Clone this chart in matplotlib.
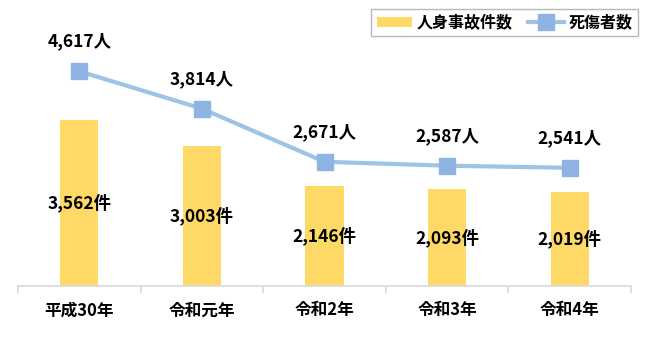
import numpy as np
import matplotlib.pyplot as plt

plt.rcParams['font.family'] = ['Noto Sans CJK JP', 'DejaVu Sans']

# データ
years = ['平成30年', '令和元年', '令和2年', '令和3年', '令和4年']
accidents = [3562, 3003, 2146, 2093, 2019]   # 人身事故件数
casualties = [4617, 3814, 2671, 2587, 2541]  # 死傷者数

bar_color = '#FFD966'
line_color = '#9DC3E6'
marker_color = '#8FB4E3'

fig = plt.figure(figsize=(6.5, 3.4), dpi=100)
ax = fig.add_axes([18/650, 54/340, (631-18)/650, (286-10)/340])

x = np.arange(len(years))
bars = ax.bar(x, accidents, width=0.31, color=bar_color, label='人身事故件数', zorder=2)
line, = ax.plot(x, casualties, color=line_color, lw=3, marker='s', ms=12,
                mfc=marker_color, mec=marker_color, label='死傷者数', zorder=3)

for i in range(len(years)):
    ax.text(x[i], accidents[i] / 2, f'{accidents[i]:,}件', ha='center', va='center',
            fontsize=12.5, fontweight='bold', zorder=4)
    ax.annotate(f'{casualties[i]:,}人', (x[i], casualties[i]), xytext=(0, 15),
                textcoords='offset points', ha='center', va='bottom',
                fontsize=12.5, fontweight='bold')

ax.set_xlim(-0.5, 4.5)
ax.set_ylim(0, 5935)
ax.set_yticks([])
ax.set_xticks(x)
ax.set_xticklabels(years, fontsize=12, fontweight='bold')
ax.set_xticks(np.arange(-0.5, 5, 1), minor=True)
ax.tick_params(axis='x', which='major', length=0, pad=11)
ax.tick_params(axis='x', which='minor', length=5, color='#D9D9D9', width=1.2)
for s in ['top', 'right', 'left']:
    ax.spines[s].set_visible(False)
ax.spines['bottom'].set_color('#D9D9D9')
ax.spines['bottom'].set_linewidth(1.2)

leg = ax.legend([bars, line], ['人身事故件数', '死傷者数'],
                loc='upper right', bbox_to_anchor=(638/650, 1 - 9/340), bbox_transform=fig.transFigure,
                ncol=2, frameon=True, fancybox=False, edgecolor='#A6A6A6',
                prop={'size': 11.5, 'weight': 'bold'}, handlelength=2.2, handleheight=0.6,
                columnspacing=1.0, borderpad=0.35, borderaxespad=0, handletextpad=0.3)
leg.get_frame().set_linewidth(1)

fig.savefig('out.png', dpi=100)
